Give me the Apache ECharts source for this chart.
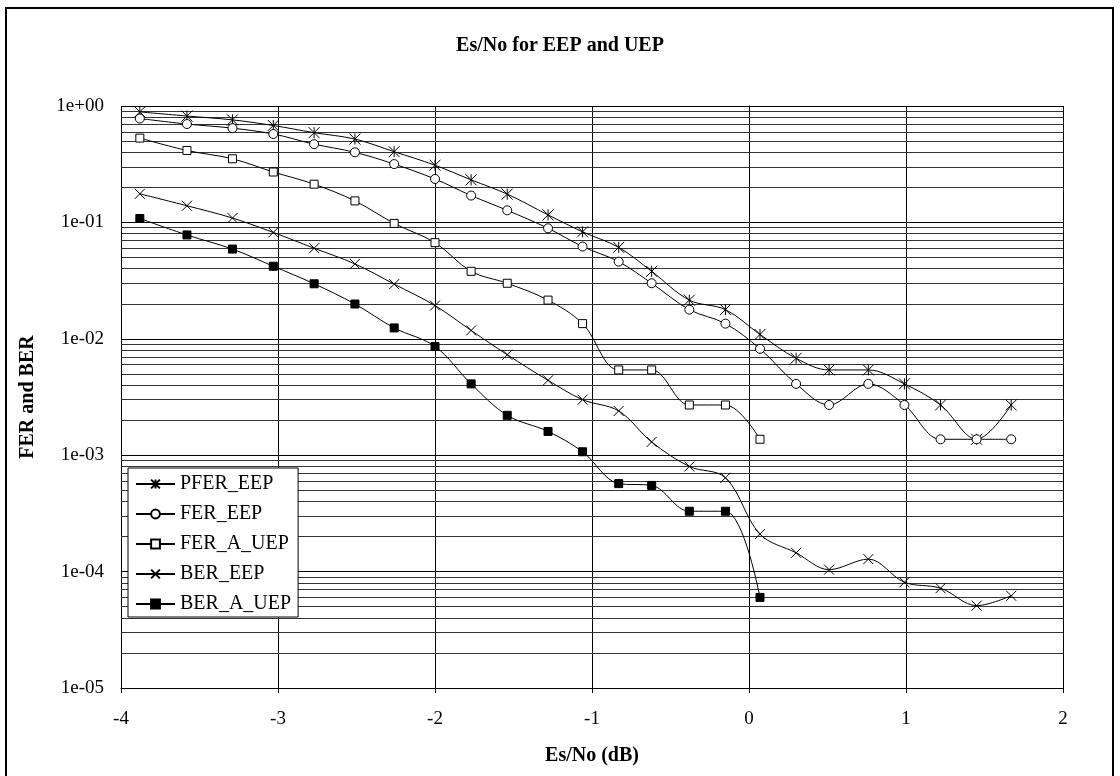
<!DOCTYPE html>
<html>
<head>
    <title>Es/No for EEP and UEP</title>
    <meta charset="utf-8">
    <script src="https://cdn.jsdelivr.net/npm/echarts@6/dist/echarts.min.js"></script>
    <style>
        body { margin: 0; background: #fff; }
    </style>
</head>
<body>
    <div id="main" style="width: 1120px;height:776px;"></div>

    <script type="text/javascript">
        // Es/No values (dB) shared by all curves
        var esNo = [-3.88, -3.58, -3.29, -3.03, -2.77, -2.51, -2.26, -2.00, -1.77, -1.54, -1.28, -1.06,
            -0.83, -0.62, -0.38, -0.15, 0.07, 0.30, 0.51, 0.76, 0.99, 1.22, 1.45, 1.67];

        var pferEep = [0.89, 0.82, 0.76, 0.68, 0.59, 0.52, 0.405, 0.31, 0.232, 0.175, 0.116, 0.083,
            0.061, 0.038, 0.0215, 0.0178, 0.0109, 0.0068, 0.0054, 0.0054, 0.0041, 0.0027, 0.00137, 0.0027];
        var ferEep = [0.78, 0.70, 0.645, 0.575, 0.47, 0.40, 0.317, 0.236, 0.17, 0.127, 0.089, 0.062,
            0.046, 0.030, 0.0178, 0.0135, 0.0082, 0.0041, 0.0027, 0.0041, 0.0027, 0.00137, 0.00137, 0.00137];
        var ferAUep = [0.53, 0.415, 0.352, 0.271, 0.213, 0.153, 0.098, 0.067, 0.038, 0.030, 0.0215, 0.0135,
            0.0054, 0.0054, 0.0027, 0.0027, 0.00137];
        var berEep = [0.176, 0.139, 0.109, 0.082, 0.060, 0.044, 0.0295, 0.0193, 0.0118, 0.0073, 0.0044, 0.0030,
            0.0024, 0.0013, 0.0008, 0.00064, 0.00021, 0.000145, 0.000104, 0.000128, 0.000081, 0.000072, 0.000051, 0.000062];
        var berAUep = [0.108, 0.078, 0.059, 0.042, 0.0297, 0.0199, 0.0124, 0.0086, 0.0041, 0.0022, 0.0016, 0.00107,
            0.00057, 0.00055, 0.00033, 0.00033, 0.00006];

        var seriesNames = ['PFER_EEP', 'FER_EEP', 'FER_A_UEP', 'BER_EEP', 'BER_A_UEP'];

        var xMin = -4, xMax = 2;

        // minor gridlines at 2..9 x 10^k
        var minorGrid = [];
        for (var e = -5; e < 0; e++) {
            for (var k = 2; k <= 9; k++) {
                minorGrid.push(k * Math.pow(10, e));
            }
        }

        var font = 'Liberation Serif';

        function pairs(ys) {
            return ys.map(function(y, i) { return [esNo[i], y]; });
        }

        function expLabel(v) {
            var e = Math.round(Math.log10(v));
            var a = Math.abs(e);
            return '1e' + (e < 0 ? '-' : '+') + (a < 10 ? '0' : '') + a;
        }

        var myChart = echarts.init(document.getElementById('main'));

        function curve(name, ys, symbol, size, fill) {
            return {
                name: name,
                type: 'line',
                smooth: 0.35,
                z: 3,
                symbol: symbol,
                symbolSize: size,
                showAllSymbol: true,
                lineStyle: { color: '#000', width: 1 },
                itemStyle: { color: fill, borderColor: '#000', borderWidth: 1 },
                data: pairs(ys)
            };
        }

        var option = {
            animation: false,
            backgroundColor: '#fff',
            textStyle: { fontFamily: font, color: '#000' },
            title: {
                text: 'Es/No for EEP and UEP',
                left: 'center',
                top: 31,
                textStyle: { fontFamily: font, fontSize: 20, fontWeight: 'bold', color: '#000' }
            },
            graphic: [{
                type: 'rect',
                shape: { x: 6, y: 8, width: 1107, height: 790 },
                style: { fill: 'none', stroke: '#000', lineWidth: 2 },
                silent: true
            }],
            legend: {
                data: seriesNames,
                orient: 'vertical',
                left: 128,
                top: 468,
                z: 20,
                padding: [6, 7, 3, 7],
                itemGap: 10,
                itemWidth: 39,
                itemHeight: 11,
                backgroundColor: '#fff',
                borderColor: '#000',
                borderWidth: 1,
                textStyle: { fontFamily: font, fontSize: 20, lineHeight: 20, color: '#000' }
            },
            grid: {
                left: 121,
                top: 106,
                right: 57,
                bottom: 88
            },
            xAxis: {
                type: 'value',
                min: xMin,
                max: xMax,
                interval: 1,
                name: 'Es/No (dB)',
                nameLocation: 'middle',
                nameGap: 58,
                nameTextStyle: { fontFamily: font, fontSize: 20, fontWeight: 'bold', color: '#000' },
                axisLine: { lineStyle: { color: '#000', width: 1 } },
                axisTick: { show: true, length: 5, lineStyle: { color: '#000' } },
                axisLabel: { fontFamily: font, fontSize: 19, color: '#000', margin: 22 },
                splitLine: { show: true, lineStyle: { color: '#000', width: 1 } }
            },
            yAxis: {
                type: 'log',
                logBase: 10,
                min: 1e-5,
                max: 1,
                name: 'FER and BER',
                nameLocation: 'middle',
                nameRotate: 90,
                nameGap: 83,
                nameTextStyle: { fontFamily: font, fontSize: 20, fontWeight: 'bold', color: '#000' },
                axisLine: { show: true, lineStyle: { color: '#000', width: 1 } },
                axisTick: { show: true, length: 5, lineStyle: { color: '#000' } },
                axisLabel: { fontFamily: font, fontSize: 19, color: '#000', margin: 17, formatter: expLabel },
                splitLine: { show: true, lineStyle: { color: '#000', width: 1 } }
            },
            series: [
                {
                    name: 'grid-minor',
                    type: 'line',
                    data: [],
                    z: 1,
                    markLine: {
                        z: 1,
                        silent: true,
                        symbol: 'none',
                        animation: false,
                        label: { show: false },
                        lineStyle: { color: '#333', width: 1, type: 'solid' },
                        data: minorGrid.map(function(v) {
                            return [{ coord: [xMin, v] }, { coord: [xMax, v] }];
                        })
                    }
                },
                curve('PFER_EEP', pferEep, 'path://M0,0L10,10M10,0L0,10M5,0L5,10', 11, '#000'),
                curve('FER_EEP', ferEep, 'circle', 9, '#fff'),
                curve('FER_A_UEP', ferAUep, 'rect', 8, '#fff'),
                curve('BER_EEP', berEep, 'path://M0,0L10,10M10,0L0,10', 10, '#000'),
                curve('BER_A_UEP', berAUep, 'rect', 8, '#000')
            ]
        };

        myChart.setOption(option);
    </script>
</body>
</html>
